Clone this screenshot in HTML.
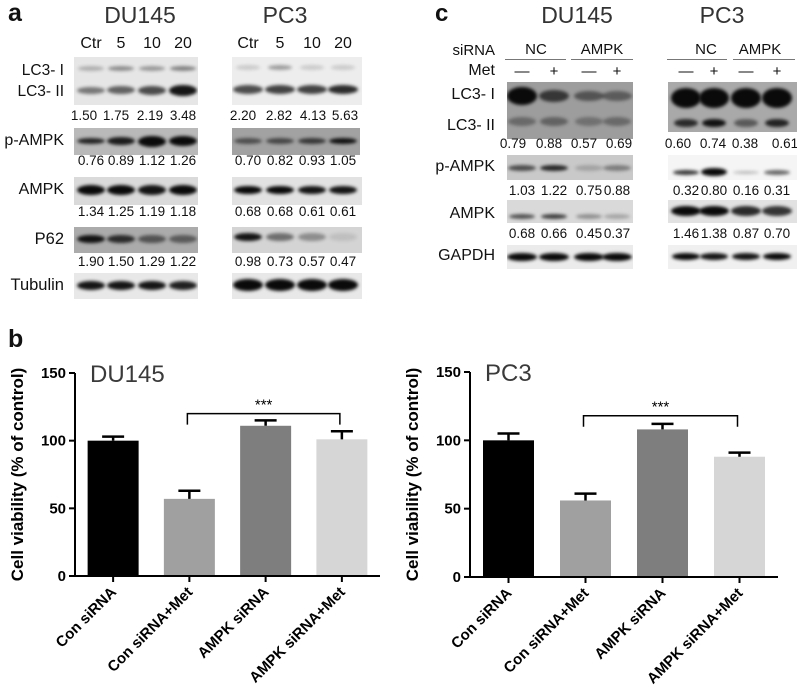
<!DOCTYPE html>
<html><head><meta charset="utf-8">
<style>
body{margin:0;width:797px;height:688px;background:#fff;position:relative;overflow:hidden;font-family:"Liberation Sans",sans-serif;}
.t{position:absolute;white-space:nowrap;color:#111;}
.blot{position:absolute;overflow:hidden;}
.band{position:absolute;border-radius:50%;filter:blur(1.6px);}
</style></head>
<body>
<div id="root"></div>
<svg id="charts" width="797" height="688" style="position:absolute;left:0;top:0"></svg>
<script>
const root=document.getElementById('root');
function txt(s,x,y,size,opt){opt=opt||{};
  const d=document.createElement('div');d.className='t';d.textContent=s;
  d.style.left=x+'px';d.style.top=(y-size*0.6)+'px';d.style.fontSize=size+'px';
  if(opt.bold)d.style.fontWeight='bold';
  if(opt.color)d.style.color=opt.color;
  if(opt.align==='c'){d.style.transform='translateX(-50%)';}
  if(opt.align==='r'){d.style.transform='translateX(-100%)';}
  
  
  root.appendChild(d);return d;}
function blot(x,y,w,h,bg,name){
  const b=document.createElement('div');b.className='blot';
  b.style.cssText+=`left:${x}px;top:${y}px;width:${w}px;height:${h}px;background:${bg};`;
  
  
  root.appendChild(b);return b;}
function band(b,bx,cx,cy,w,h,a){
  const e=document.createElement('div');e.className='band';
  e.style.cssText+=`left:${cx-bx-w/2}px;top:${cy-h/2}px;width:${w}px;height:${h}px;background:rgba(10,10,10,${a});`;
  
  
  b.appendChild(e);}
function row(x,y,w,h,bg,cols,cy,bw,bh,alphas,name){
  const b=blot(x,y,w,h,bg,name);
  cols.forEach((c,i)=>band(b,x,c,cy-y,bw,Array.isArray(bh)?bh[i]:bh,alphas[i]));return b;}
function nums(arr,cols,y,name){arr.forEach((v,i)=>txt(v,cols[i],y,13.5,{align:'c',name:name}));}

// ---------- Panel a ----------
txt('a',8,14,25,{bold:true,name:'panel-a-label'});
txt('DU145',140,16,23,{align:'c',color:'#333',name:'a-du145-title'});
txt('PC3',285,16,23,{align:'c',color:'#333',name:'a-pc3-title'});
const aDU=[91,121,152,183], aPC=[248,280,312,343];
['Ctr','5','10','20'].forEach((s,i)=>{txt(s,aDU[i],45,16,{align:'c',name:'dose-label'});txt(s,aPC[i],45,16,{align:'c',name:'dose-label'});});
txt('LC3- I',64,71,15.5,{align:'r',name:'lc3-i-label'});
txt('LC3- II',64,92,15.5,{align:'r',name:'lc3-ii-label'});
let b=row(74,57,124,48,'#e6e6e6',aDU,68,26,5,[.25,.4,.35,.45],'a-du-lc3-blot');
aDU.forEach((c,i)=>band(b,74,c,90-57,28,[7,8,9,11][i],[.5,.6,.7,.95][i]));
b=row(232,57,130,48,'#ededed',aPC,67,24,5,[.15,.35,.15,.15],'a-pc3-lc3-blot');
aPC.forEach((c,i)=>band(b,232,c,89-57,30,9,[.7,.75,.75,.85][i]));
nums(['1.50','1.75','2.19','3.48'],[84,116,150,183],116,'a-du-lc3-ratio');
nums(['2.20','2.82','4.13','5.63'],[243,279,313,345],116,'a-pc3-lc3-ratio');
txt('p-AMPK',64,142,16,{align:'r',name:'p-ampk-label'});
row(74,128,124,27,'#b9b9b9',aDU,141,28,[6,8,11,10],[.85,.9,1,1],'a-du-pampk-blot');
row(232,128,128,27,'#a2a2a2',aPC,141,28,6,[.55,.6,.7,.95],'a-pc3-pampk-blot');
nums(['0.76','0.89','1.12','1.26'],aDU,161,'a-du-pampk-ratio');
nums(['0.70','0.82','0.93','1.05'],aPC,161,'a-pc3-pampk-ratio');
txt('AMPK',64,191,16,{align:'r',name:'ampk-label'});
row(74,177,124,28,'#dadada',aDU,190,28,10,[1,1,.95,1],'a-du-ampk-blot');
row(232,177,130,28,'#e2e2e2',aPC,190,28,8,[1,1,.95,.95],'a-pc3-ampk-blot');
nums(['1.34','1.25','1.19','1.18'],aDU,212,'a-du-ampk-ratio');
nums(['0.68','0.68','0.61','0.61'],aPC,212,'a-pc3-ampk-ratio');
txt('P62',64,240,16.5,{align:'r',name:'p62-label'});
row(74,227,124,26,'#ababab',aDU,239,28,8,[.95,.8,.55,.5],'a-du-p62-blot');
row(232,227,130,26,'#d4d4d4',aPC,237,28,8,[.95,.5,.35,.1],'a-pc3-p62-blot');
nums(['1.90','1.50','1.29','1.22'],aDU,262,'a-du-p62-ratio');
nums(['0.98','0.73','0.57','0.47'],aPC,262,'a-pc3-p62-ratio');
txt('Tubulin',64,286,16.5,{align:'r',name:'tubulin-label'});
row(74,273,124,26,'#e8e8e8',aDU,285,28,9,[.95,.95,.95,.9],'a-du-tubulin-blot');
row(232,273,130,26,'#e8e8e8',aPC,285,30,12,[1,1,1,1],'a-pc3-tubulin-blot');

// ---------- Panel c ----------
txt('c',435,14,24,{bold:true,name:'panel-c-label'});
txt('DU145',577,16,23,{align:'c',color:'#333',name:'c-du145-title'});
txt('PC3',722,16,23,{align:'c',color:'#333',name:'c-pc3-title'});
const cDU=[522,554,589,617], cPC=[686,714,746,777];
txt('siRNA',495,51,15,{align:'r',name:'sirna-label'});
txt('Met',495,72,16,{align:'r',name:'met-label'});
[['NC',536,505,566],['AMPK',602,571,633],['NC',706,667,727],['AMPK',760,733,795]].forEach(g=>{
  txt(g[0],g[1],50,15,{align:'c',name:'sirna-group'});
  const l=document.createElement('div');l.style.cssText=`position:absolute;left:${g[2]}px;top:59px;width:${g[3]-g[2]}px;height:1px;background:#777;`;
  
  root.appendChild(l);});
['—','+','—','+'].forEach((s,i)=>{txt(s,cDU[i],72,15,{align:'c',name:'met-sign'});txt(s,cPC[i],72,15,{align:'c',name:'met-sign'});});
txt('LC3- I',495,96,16,{align:'r',name:'c-lc3-i-label'});
txt('LC3- II',495,127,16,{align:'r',name:'c-lc3-ii-label'});
b=row(507,82,126,57,'#9d9d9d',cDU,96,30,[18,12,10,10],[1,.7,.5,.45],'c-du-lc3-blot');
cDU.forEach((c,i)=>band(b,507,c,121-82,28,9,[.35,.4,.3,.35][i]));
b=row(668,82,129,50,'#a9a9a9',cPC,98,30,20,[1,1,1,1],'c-pc3-lc3-blot');
cPC.forEach((c,i)=>band(b,668,c,123-82,24,8,[.8,.95,.5,.85][i]));
nums(['0.79','0.88','0.57','0.69'],[513,549,584,619],144,'c-du-lc3-ratio');
nums(['0.60','0.74','0.38','0.61'],[678,713,745,785],144,'c-pc3-lc3-ratio');
txt('p-AMPK',495,168,16,{align:'r',name:'c-pampk-label'});
row(507,155,126,25,'#c9c9c9',cDU,168,28,6,[.65,.85,.2,.4],'c-du-pampk-blot');
row(668,155,129,25,'#f5f5f5',cPC,172,26,[5,8,3,5],[.8,1,.25,.6],'c-pc3-pampk-blot');
nums(['1.03','1.22','0.75','0.88'],cDU,191,'c-du-pampk-ratio');
nums(['0.32','0.80','0.16','0.31'],cPC,191,'c-pc3-pampk-ratio');
txt('AMPK',495,215,16,{align:'r',name:'c-ampk-label'});
row(507,200,126,23,'#d9d9d9',cDU,216,26,5,[.65,.75,.35,.25],'c-du-ampk-blot');
row(668,200,129,23,'#e2e2e2',cPC,211,30,10,[1,1,.85,.8],'c-pc3-ampk-blot');
nums(['0.68','0.66','0.45','0.37'],cDU,234,'c-du-ampk-ratio');
nums(['1.46','1.38','0.87','0.70'],cPC,234,'c-pc3-ampk-ratio');
txt('GAPDH',495,257,16,{align:'r',name:'gapdh-label'});
row(507,245,126,24,'#ebebeb',cDU,257,30,8,[1,1,1,1],'c-du-gapdh-blot');
row(668,245,129,24,'#f0f0f0',cPC,256,28,7,[1,.95,.95,1],'c-pc3-gapdh-blot');
txt('b',8,340,25,{bold:true,name:'panel-b-label'});
</script>
<script>
// ---------- Panel b charts ----------
const categories=['Con siRNA','Con siRNA+Met','AMPK siRNA','AMPK siRNA+Met'];
const du145Values=[100,57,111,101];
const du145Errors=[3,6,4,6];
const pc3Values=[100,56,108,88];
const pc3Errors=[5,5,4,3];
const yTicks=[0,50,100,150];
const bracketValue=[120,118];
const barColors=['#000000','#a0a0a0','#7e7e7e','#d6d6d6'];
const NS='http://www.w3.org/2000/svg';
const svg=document.getElementById('charts');
function el(tag,attrs,parent){const e=document.createElementNS(NS,tag);for(const k in attrs)e.setAttribute(k,attrs[k]);(parent||svg).appendChild(e);return e;}
function chart(cfg,values,errors,bracket,title){
  const g=el('g',{});
  
  
  const y=v=>cfg.y0-(v/150)*(cfg.y0-cfg.y150);
  const step=(cfg.xEnd-cfg.ax)/4;
  const x=i=>cfg.ax+step*(i+0.5);
  const bw=51;
  values.forEach((v,i)=>{
    const r=el('rect',{x:x(i)-bw/2,y:y(v),width:bw,height:cfg.y0-y(v),fill:barColors[i]},g);
    
    
    const ye=y(v+errors[i]);
    const eb=el('path',{d:`M${x(i)} ${y(v)}V${ye}M${x(i)-11} ${ye}H${x(i)+11}`,stroke:'#000','stroke-width':2.5,fill:'none'},g);
    
    
  });
  const ax=el('path',{d:`M${cfg.ax} ${cfg.y150}V${cfg.y0}H${cfg.xEnd}`,stroke:'#000','stroke-width':2,fill:'none'},g);
  
  
  yTicks.forEach(t=>{
    el('line',{x1:cfg.ax-6,x2:cfg.ax,y1:y(t),y2:y(t),stroke:'#000','stroke-width':2},g);
    const tl=el('text',{x:cfg.ax-9,y:y(t)+5,'text-anchor':'end','font-size':15,'font-weight':'bold','font-family':'Liberation Sans, sans-serif'},g);
    tl.textContent=t;
    
    
  });
  categories.forEach((c,i)=>{
    el('line',{x1:x(i),x2:x(i),y1:cfg.y0,y2:cfg.y0+6,stroke:'#000','stroke-width':2},g);
    const t=el('text',{x:x(i)+4,y:cfg.y0+17,'text-anchor':'end','font-size':15,'font-weight':'bold','font-family':'Liberation Sans, sans-serif',transform:`rotate(-45 ${x(i)+4} ${cfg.y0+17})`},g);
    t.textContent=c;
    
    
  });
  const yt=el('text',{x:0,y:0,'text-anchor':'middle','font-size':17,'font-weight':'bold','font-family':'Liberation Sans, sans-serif',transform:`translate(${cfg.ax-52} ${(cfg.y0+cfg.y150)/2}) rotate(-90)`},g);
  yt.textContent='Cell viability (% of control)';
  
  
  const tt=el('text',{x:cfg.ax+15,y:cfg.y150+9,'font-size':24,fill:'#3a3a3a','font-family':'Liberation Sans, sans-serif'},g);
  tt.textContent=title;
  
  
  const by=y(bracket);
  const br=el('path',{d:`M${x(1)-2} ${by+11}V${by}H${x(3)-2}V${by+11}`,stroke:'#000','stroke-width':1.5,fill:'none'},g);
  
  
  const st=el('text',{x:(x(1)+x(3))/2-2,y:by-4,'text-anchor':'middle','font-size':15,'font-family':'Liberation Sans, sans-serif'},g);
  st.textContent='***';
  
  
}
chart({name:'du145-viability-chart',ax:75,xEnd:380,y0:576,y150:373},du145Values,du145Errors,bracketValue[0],'DU145');
chart({name:'pc3-viability-chart',ax:470,xEnd:778,y0:577,y150:372},pc3Values,pc3Errors,bracketValue[1],'PC3');
</script>
</body></html>
